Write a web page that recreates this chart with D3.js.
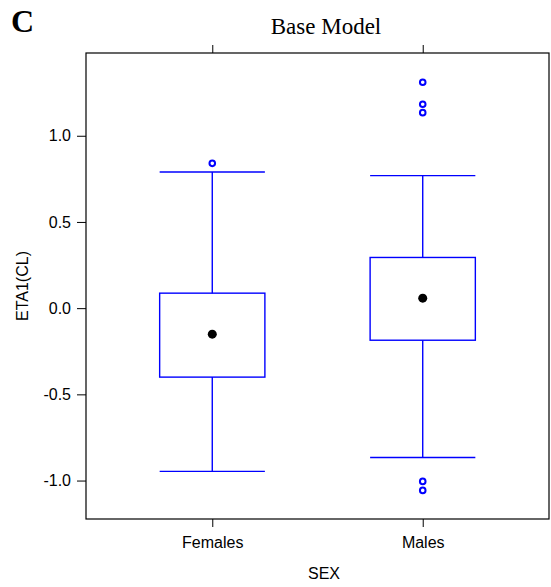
<!DOCTYPE html>
<meta charset="utf-8">
<html>
<head>
<style>
body { margin: 0; background: #fff; }
text { font-family: "Liberation Sans", Arial, sans-serif; }
.axis path { display: none; }
.axis line { stroke: #000; }
.axis text { font-size: 16px; fill: #000; }
.box { fill: none; stroke: #0000ff; stroke-width: 1.4; }
.out { fill: none; stroke: #0000ff; stroke-width: 2; }
</style>
<script src="https://cdn.jsdelivr.net/npm/d3@7"></script>
</head>
<body>
<svg width="551" height="587"></svg>
<script>
// data
var categories = ["Females", "Males"];
var whiskerLow  = [-0.947, -0.866];
var q1          = [-0.400, -0.186];
var median      = [-0.151,  0.058];
var q3          = [ 0.087,  0.294];
var whiskerHigh = [ 0.790,  0.769];
var outliers    = [[0.84], [1.310, 1.183, 1.134, -1.005, -1.057]];
var yTicks = [-1.0, -0.5, 0.0, 0.5, 1.0];

var svg = d3.select("svg");
var pLeft = 86, pRight = 549, pTop = 53, pBottom = 519;

var x = d3.scalePoint()
    .domain(categories)
    .range([pLeft, pRight])
    .padding(0.6);

var y = d3.scaleLinear()
    .domain([-1.223, 1.48])
    .range([pBottom, pTop]);

var bw = x.step() * 0.5;

// frame
svg.append("rect")
    .attr("x", pLeft).attr("y", pTop)
    .attr("width", pRight - pLeft).attr("height", pBottom - pTop)
    .attr("fill", "none").attr("stroke", "#000").attr("stroke-width", 1.2);

// axes
svg.append("g")
    .attr("class", "axis")
    .attr("transform", "translate(" + pLeft + ",0)")
    .call(d3.axisLeft(y).tickValues(yTicks).tickSize(9).tickPadding(6)
      .tickFormat(function(d) { return d.toFixed(1); }));

svg.append("g")
    .attr("class", "axis")
    .attr("transform", "translate(0," + pBottom + ")")
    .call(d3.axisBottom(x).tickSize(8).tickPadding(10));

svg.append("g")
    .attr("class", "axis")
    .attr("transform", "translate(0," + pTop + ")")
    .call(d3.axisTop(x).tickSize(8).tickFormat(""));

// boxes
var g = svg.selectAll(".grp")
    .data(categories)
  .enter().append("g")
    .attr("class", "grp");

g.append("line").attr("class", "box")
    .attr("x1", function(d) { return x(d); }).attr("x2", function(d) { return x(d); })
    .attr("y1", function(d, i) { return y(whiskerHigh[i]); })
    .attr("y2", function(d, i) { return y(q3[i]); });

g.append("line").attr("class", "box")
    .attr("x1", function(d) { return x(d); }).attr("x2", function(d) { return x(d); })
    .attr("y1", function(d, i) { return y(q1[i]); })
    .attr("y2", function(d, i) { return y(whiskerLow[i]); });

g.append("line").attr("class", "box")
    .attr("x1", function(d) { return x(d) - bw / 2; }).attr("x2", function(d) { return x(d) + bw / 2; })
    .attr("y1", function(d, i) { return y(whiskerHigh[i]); })
    .attr("y2", function(d, i) { return y(whiskerHigh[i]); });

g.append("line").attr("class", "box")
    .attr("x1", function(d) { return x(d) - bw / 2; }).attr("x2", function(d) { return x(d) + bw / 2; })
    .attr("y1", function(d, i) { return y(whiskerLow[i]); })
    .attr("y2", function(d, i) { return y(whiskerLow[i]); });

g.append("rect").attr("class", "box")
    .attr("x", function(d) { return x(d) - bw / 2; })
    .attr("width", bw)
    .attr("y", function(d, i) { return y(q3[i]); })
    .attr("height", function(d, i) { return y(q1[i]) - y(q3[i]); });

g.append("circle")
    .attr("cx", function(d) { return x(d); })
    .attr("cy", function(d, i) { return y(median[i]); })
    .attr("r", 4.5)
    .attr("fill", "#000");

g.selectAll(".out")
    .data(function(d, i) { return outliers[i].map(function(v) { return {c: d, v: v}; }); })
  .enter().append("circle")
    .attr("class", "out")
    .attr("cx", function(d) { return x(d.c); })
    .attr("cy", function(d) { return y(d.v); })
    .attr("r", 2.8);

// labels
svg.append("text")
    .attr("x", 326).attr("y", 34)
    .attr("text-anchor", "middle")
    .style("font-family", "'Liberation Serif', 'Times New Roman', serif")
    .style("font-size", "23px")
    .text("Base Model");

svg.append("text")
    .attr("x", 11).attr("y", 32)
    .style("font-family", "'Liberation Serif', 'Times New Roman', serif")
    .style("font-size", "32px")
    .style("font-weight", "bold")
    .text("C");

svg.append("text")
    .attr("x", 324).attr("y", 579)
    .attr("text-anchor", "middle")
    .style("font-size", "16px")
    .text("SEX");

svg.append("text")
    .attr("transform", "translate(28," + ((pTop + pBottom) / 2) + ") rotate(-90)")
    .attr("text-anchor", "middle")
    .style("font-size", "16px")
    .text("ETA1(CL)");
</script>
</body>
</html>
